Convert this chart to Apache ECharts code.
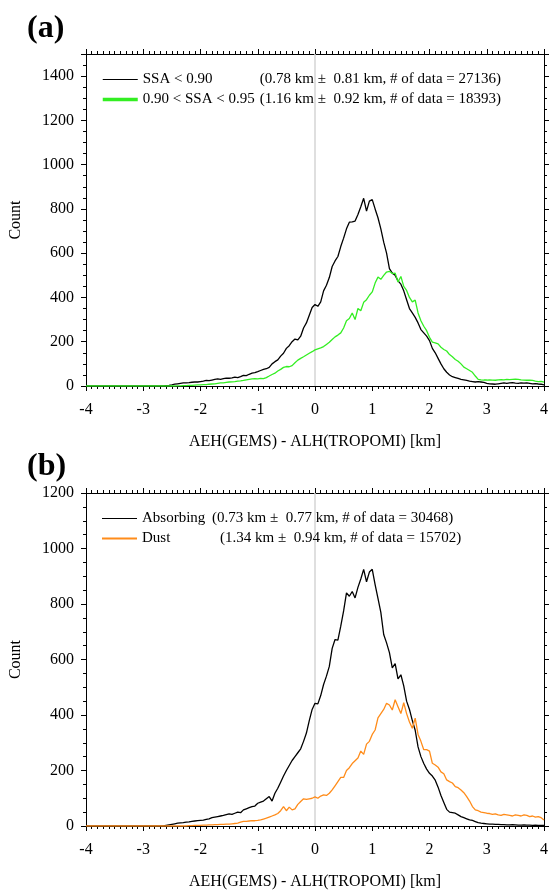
<!DOCTYPE html>
<html>
<head>
<meta charset="utf-8">
<script src="https://cdn.jsdelivr.net/npm/echarts@6/dist/echarts.min.js"></script>
<style>
  html, body { margin: 0; padding: 0; background: #fff; }
  #main { width: 551px; height: 891px; }
</style>
</head>
<body>
<div id="main"></div>
<script>
// bin centres, km (-4 .. 4, 0.05 step)
var binX = [
  -4.00,-3.95,-3.90,-3.85,-3.80,-3.75,-3.70,-3.65,-3.60,-3.55,-3.50,-3.45,-3.40,-3.35,-3.30,-3.25,-3.20,-3.15,-3.10,-3.05,
  -3.00,-2.95,-2.90,-2.85,-2.80,-2.75,-2.70,-2.65,-2.60,-2.55,-2.50,-2.45,-2.40,-2.35,-2.30,-2.25,-2.20,-2.15,-2.10,-2.05,
  -2.00,-1.95,-1.90,-1.85,-1.80,-1.75,-1.70,-1.65,-1.60,-1.55,-1.50,-1.45,-1.40,-1.35,-1.30,-1.25,-1.20,-1.15,-1.10,-1.05,
  -1.00,-0.95,-0.90,-0.85,-0.80,-0.75,-0.70,-0.65,-0.60,-0.55,-0.50,-0.45,-0.40,-0.35,-0.30,-0.25,-0.20,-0.15,-0.10,-0.05,
   0.00, 0.05, 0.10, 0.15, 0.20, 0.25, 0.30, 0.35, 0.40, 0.45, 0.50, 0.55, 0.60, 0.65, 0.70, 0.75, 0.80, 0.85, 0.90, 0.95,
   1.00, 1.05, 1.10, 1.15, 1.20, 1.25, 1.30, 1.35, 1.40, 1.45, 1.50, 1.55, 1.60, 1.65, 1.70, 1.75, 1.80, 1.85, 1.90, 1.95,
   2.00, 2.05, 2.10, 2.15, 2.20, 2.25, 2.30, 2.35, 2.40, 2.45, 2.50, 2.55, 2.60, 2.65, 2.70, 2.75, 2.80, 2.85, 2.90, 2.95,
   3.00, 3.05, 3.10, 3.15, 3.20, 3.25, 3.30, 3.35, 3.40, 3.45, 3.50, 3.55, 3.60, 3.65, 3.70, 3.75, 3.80, 3.85, 3.90, 3.95,
   4.00
];

// (a) SSA < 0.90
var ssaLow = [
  0,0,0,0,0,0,0,0,0,0,0,0,0,0,0,0,0,0,0,0,
  0,0,0,0,0,0,0,0,2,3,5,8,10,12,14,14,15,17,18,18,
  20,22,25,24,27,30,32,30,33,36,35,37,40,38,42,48,47,53,58,60,
  65,70,75,78,84,100,110,118,135,148,170,182,200,212,208,225,262,285,320,355,
  368,360,380,430,455,490,540,565,585,630,668,710,740,742,745,775,810,848,790,835,
  842,800,760,710,650,600,530,510,500,475,460,430,390,350,330,310,285,255,240,225,
  205,170,150,125,100,78,62,50,42,38,34,30,28,25,22,20,18,20,18,16,
  12,10,9,8,10,12,14,12,14,15,13,12,14,13,14,12,10,11,9,8,
  5
];
// (a) 0.90 < SSA < 0.95
var ssaMid = [
  0,0,0,0,0,0,0,0,0,0,0,0,0,0,0,0,0,0,0,0,
  0,0,0,0,0,0,0,0,0,0,0,0,1,1,2,2,3,3,4,5,
  5,6,6,8,9,10,12,14,14,16,18,19,20,22,23,25,28,30,32,33,
  32,34,33,38,45,52,58,68,75,84,88,87,92,105,117,125,132,140,148,155,
  163,168,172,178,188,198,210,222,230,240,262,295,305,330,300,350,340,378,390,410,
  425,465,492,482,500,515,518,508,510,470,495,450,432,400,380,388,330,295,270,250,
  220,198,195,190,175,165,158,142,132,120,112,100,85,78,70,62,45,30,28,27,
  27,28,27,26,28,29,28,30,29,30,31,30,28,27,26,27,25,22,20,21,
  18
];
// (b) Absorbing
var absorbing = [
  0,0,0,0,0,0,0,0,0,0,0,0,0,0,0,0,0,0,0,0,
  0,0,0,0,0,0,0,0,2,4,6,8,10,11,12,14,15,17,18,19,
  20,21,24,26,30,32,34,36,38,41,44,42,46,50,48,58,62,66,70,72,
  82,86,90,98,106,90,118,136,158,180,200,218,236,250,264,278,305,335,380,420,
  442,440,470,510,540,575,640,672,670,720,775,840,828,845,822,860,890,925,880,915,
  925,870,820,770,690,660,625,570,585,530,545,505,450,420,380,345,285,250,225,205,
  190,180,165,140,110,85,60,50,48,46,40,34,30,26,22,20,16,12,10,9,
  8,7,7,6,6,5,5,4,4,5,4,3,3,4,3,3,2,3,2,2,
  2
];
// (b) Dust
var dust = [
  0,0,0,0,0,0,0,0,0,0,0,0,0,0,0,0,0,0,0,0,
  0,0,0,0,0,0,0,0,0,0,0,0,0,0,0,0,1,1,2,2,
  2,3,3,4,4,5,5,6,6,7,7,8,9,10,14,17,17,18,19,19,
  20,22,25,28,32,36,40,45,55,70,55,68,58,62,78,88,98,96,98,100,
  105,100,108,112,110,118,130,145,160,175,175,200,210,225,235,245,270,258,295,305,
  330,346,390,405,420,442,436,418,455,430,405,444,405,375,352,389,330,305,275,275,
  270,226,220,212,195,188,166,160,155,142,138,130,120,106,90,70,58,55,50,48,
  46,45,42,44,40,38,42,40,38,36,40,38,36,40,38,34,36,32,34,30,
  22
];

var names = ['SSA < 0.90', '0.90 < SSA < 0.95', 'Absorbing', 'Dust'];
var stats = {
  'SSA < 0.90': '(0.78 km \u00b1  0.81 km, # of data = 27136)',
  '0.90 < SSA < 0.95': '(1.16 km \u00b1  0.92 km, # of data = 18393)',
  'Absorbing': '(0.73 km \u00b1  0.77 km, # of data = 30468)',
  'Dust': '(1.34 km \u00b1  0.94 km, # of data = 15702)'
};
var yMaxA = 1500, yMaxB = 1200;

var FONT = '"Liberation Serif", "Times New Roman", serif';

function pairs(vals) {
  return binX.map(function (x, i) { return [x, vals[i]]; });
}

function xAx(grid, pos, showLabel) {
  return {
    type: 'value', gridIndex: grid, position: pos,
    min: -4, max: 4, interval: 1,
    name: showLabel ? 'AEH(GEMS) - ALH(TROPOMI) [km]' : '',
    nameLocation: 'middle', nameGap: 48,
    nameTextStyle: { fontFamily: FONT, fontSize: 16, color: '#000' },
    axisLine: { show: true, onZero: false, lineStyle: { color: '#000', width: 1 } },
    axisTick: { show: true, inside: false, length: 5, lineStyle: { color: '#000' } },
    minorTick: { show: true, splitNumber: 10, length: 3, lineStyle: { color: '#000' } },
    axisLabel: { show: showLabel, fontFamily: FONT, fontSize: 16, color: '#000', margin: 16 },
    splitLine: { show: false }
  };
}

function yAx(grid, pos, max, showLabel) {
  return {
    type: 'value', gridIndex: grid, position: pos,
    min: 0, max: max, interval: 200,
    name: showLabel ? 'Count' : '',
    nameLocation: 'middle', nameGap: 62, nameRotate: 90,
    nameTextStyle: { fontFamily: FONT, fontSize: 16, color: '#000' },
    axisLine: { show: true, onZero: false, lineStyle: { color: '#000', width: 1 } },
    axisTick: { show: true, inside: false, length: 5, lineStyle: { color: '#000' } },
    minorTick: { show: true, splitNumber: 4, length: 3, lineStyle: { color: '#000' } },
    axisLabel: { show: showLabel, fontFamily: FONT, fontSize: 16, color: '#000', margin: 12,
      showMaxLabel: max % 200 === 0,
      formatter: function (v) { return String(v); } },
    splitLine: { show: false }
  };
}

function lineSeries(name, vals, color, xi, yi, withZero) {
  var s = {
    name: name, type: 'line', data: pairs(vals),
    xAxisIndex: xi, yAxisIndex: yi,
    symbol: 'none', smooth: false, silent: true,
    lineStyle: { color: color, width: 1.3 },
    itemStyle: { color: color },
    z: 3
  };
  if (withZero) {
    s.markLine = {
      silent: true, symbol: 'none', label: { show: false },
      lineStyle: { color: '#d4d4d4', width: 1.5, type: 'solid' },
      data: [{ xAxis: 0 }], z: 1
    };
  }
  return s;
}

function legendFor(top, keys, colors, nameW, thick) {
  var rich = { s: { fontFamily: FONT, fontSize: 15 } };
  keys.forEach(function (k) {
    rich['n' + nameW[k]] = { width: nameW[k], fontFamily: FONT, fontSize: 15 };
  });
  return {
    orient: 'vertical', left: 96, top: top,
    itemWidth: 35, itemHeight: 10, itemGap: 5,
    selectedMode: false,
    data: keys.map(function (k, i) {
      return {
        name: k,
        // hide the marker, keep only the line
        itemStyle: { color: 'rgba(0,0,0,0)', borderColor: 'rgba(0,0,0,0)', borderWidth: 0 },
        lineStyle: { color: colors[i], width: thick[i] }
      };
    }),
    formatter: function (n) {
      return '{n' + nameW[n] + '|' + n + '}{s|' + stats[n] + '}';
    },
    textStyle: { fontFamily: FONT, fontSize: 15, color: '#000', rich: rich }
  };
}

var chart = echarts.init(document.getElementById('main'), null, { renderer: 'canvas' });
chart.setOption({
  animation: false,
  backgroundColor: '#fff',
  title: [
    { text: '(a)', left: 22, top: 8, textStyle: { fontFamily: FONT, fontSize: 32, fontWeight: 'bold', color: '#000' } },
    { text: '(b)', left: 22, top: 446, textStyle: { fontFamily: FONT, fontSize: 32, fontWeight: 'bold', color: '#000' } }
  ],
  grid: [
    { left: 86, top: 54, width: 463, height: 332 },
    { left: 86, top: 493, width: 463, height: 333 }
  ],
  xAxis: [xAx(0, 'bottom', true), xAx(0, 'top', false), xAx(1, 'bottom', true), xAx(1, 'top', false)],
  yAxis: [yAx(0, 'left', yMaxA, true), yAx(0, 'right', yMaxA, false), yAx(1, 'left', yMaxB, true), yAx(1, 'right', yMaxB, false)],
  legend: [
    legendFor(67, [names[0], names[1]], ['#000000', '#33ee22'], { 'SSA < 0.90': 117, '0.90 < SSA < 0.95': 117 }, [1.2, 3.5]),
    legendFor(506, [names[2], names[3]], ['#000000', '#ff8c1a'], { 'Absorbing': 70, 'Dust': 78 }, [1.2, 2])
  ],
  series: [
    lineSeries(names[0], ssaLow, '#000000', 0, 0, true),
    lineSeries(names[1], ssaMid, '#33ee22', 0, 0, false),
    lineSeries(names[2], absorbing, '#000000', 2, 2, true),
    lineSeries(names[3], dust, '#ff8c1a', 2, 2, false)
  ]
});
</script>
</body>
</html>
